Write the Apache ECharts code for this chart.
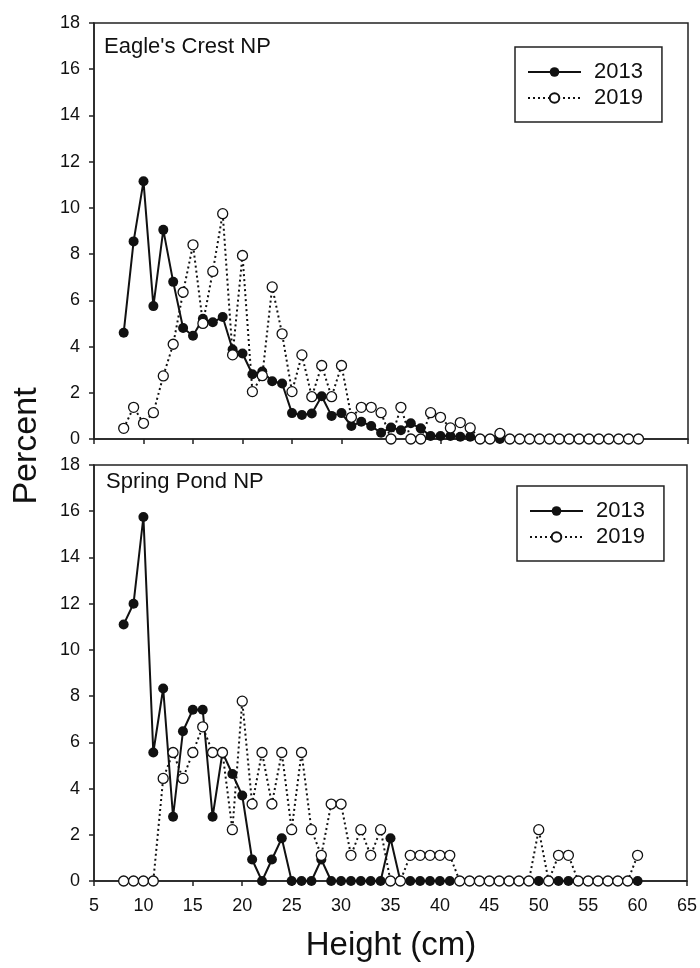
<!DOCTYPE html>
<html>
<head>
<meta charset="utf-8">
<script src="https://cdn.jsdelivr.net/npm/echarts@6/dist/echarts.min.js"></script>
<style>
  html, body { margin: 0; padding: 0; background: #fff; }
  #chart { width: 700px; height: 968px; }
</style>
</head>
<body>
<div id="chart"></div>
<script>
// ---- Data ----
const heightsTop2013 = [8, 9, 10, 11, 12, 13, 14, 15, 16, 17, 18, 19, 20, 21, 22, 23, 24, 25, 26, 27,
  28, 29, 30, 31, 32, 33, 34, 35, 36, 37, 38, 39, 40, 41, 42, 43, 44, 45, 46];
const eagle2013 = [4.6, 8.55, 11.15, 5.75, 9.05, 6.8, 4.8, 4.47, 5.2, 5.05, 5.28, 3.87, 3.7, 2.8, 2.92, 2.5, 2.4, 1.12, 1.04, 1.1,
  1.85, 1.0, 1.12, 0.56, 0.75, 0.56, 0.27, 0.5, 0.38, 0.68, 0.46, 0.13, 0.13, 0.13, 0.1, 0.1, 0, 0, 0];

const heightsAll = [8, 9, 10, 11, 12, 13, 14, 15, 16, 17, 18, 19, 20, 21, 22, 23, 24, 25, 26, 27,
  28, 29, 30, 31, 32, 33, 34, 35, 36, 37, 38, 39, 40, 41, 42, 43, 44, 45, 46, 47,
  48, 49, 50, 51, 52, 53, 54, 55, 56, 57, 58, 59, 60];
const eagle2019 = [0.46, 1.37, 0.68, 1.14, 2.73, 4.1, 6.35, 8.4, 5.0, 7.25, 9.75, 3.64, 7.94, 2.05, 2.74, 6.58, 4.55, 2.05, 3.64, 1.83,
  3.18, 1.83, 3.18, 0.94, 1.37, 1.37, 1.14, 0, 1.37, 0, 0, 1.14, 0.94, 0.48, 0.71, 0.48, 0, 0, 0.24, 0,
  0, 0, 0, 0, 0, 0, 0, 0, 0, 0, 0, 0, 0];

const spring2013 = [11.1, 12.0, 15.75, 5.56, 8.33, 2.78, 6.48, 7.41, 7.41, 2.78, 5.56, 4.63, 3.7, 0.93, 0, 0.93, 1.85, 0, 0, 0,
  0.93, 0, 0, 0, 0, 0, 0, 1.85, 0, 0, 0, 0, 0, 0, 0, 0, 0, 0, 0, 0,
  0, 0, 0, 0, 0, 0, 0, 0, 0, 0, 0, 0, 0];
const spring2019 = [0, 0, 0, 0, 4.44, 5.56, 4.44, 5.56, 6.67, 5.56, 5.56, 2.22, 7.78, 3.33, 5.56, 3.33, 5.56, 2.22, 5.56, 2.22,
  1.11, 3.33, 3.33, 1.11, 2.22, 1.11, 2.22, 0, 0, 1.11, 1.11, 1.11, 1.11, 1.11, 0, 0, 0, 0, 0, 0,
  0, 0, 2.22, 0, 1.11, 1.11, 0, 0, 0, 0, 0, 0, 1.11];

const panelTitles = ["Eagle's Crest NP", "Spring Pond NP"];
const seriesNames = ["2013", "2019"];
const xTicks = { min: 5, max: 65, interval: 5 };
const yTicks = { min: 0, max: 18, interval: 2 };

// ---- Chart ----
const FONT = "'Liberation Sans', Arial, sans-serif";
const INK = '#111';
const AXIS = '#222';

function pairs(xs, ys) { return xs.map((x, i) => [x, ys[i]]); }

const gridPos = [
  { left: 94, top: 23, width: 594, height: 416 },
  { left: 94, top: 465, width: 594, height: 416 }
];

function xAxis(i, showLabels) {
  return {
    type: 'value', gridIndex: i, min: xTicks.min, max: xTicks.max, interval: xTicks.interval,
    axisLine: { show: true, onZero: false, lineStyle: { color: AXIS, width: 1.5 } },
    axisTick: { show: true, inside: false, length: 5, lineStyle: { color: AXIS, width: 1.5 } },
    axisLabel: { show: showLabels, fontSize: 18, color: INK, fontFamily: FONT, margin: 16 },
    splitLine: { show: false }
  };
}
function yAxis(i) {
  return {
    type: 'value', gridIndex: i, min: yTicks.min, max: yTicks.max, interval: yTicks.interval,
    axisLine: { show: true, onZero: false, lineStyle: { color: AXIS, width: 1.5 } },
    axisTick: { show: true, inside: false, length: 5, lineStyle: { color: AXIS, width: 1.5 } },
    axisLabel: { fontSize: 18, color: INK, fontFamily: FONT, margin: 14 },
    splitLine: { show: false }
  };
}
function solidSeries(i, data) {
  return {
    name: seriesNames[0], type: 'line', xAxisIndex: i, yAxisIndex: i, data: data,
    symbol: 'circle', symbolSize: 10, showSymbol: true, showAllSymbol: true, z: 2,
    lineStyle: { color: INK, width: 2, type: 'solid' },
    itemStyle: { color: INK, borderColor: INK, borderWidth: 0 },
    emphasis: { disabled: true }, animation: false
  };
}
function dottedSeries(i, data) {
  return {
    name: seriesNames[1], type: 'line', xAxisIndex: i, yAxisIndex: i, data: data,
    symbol: 'circle', symbolSize: 10, showSymbol: true, showAllSymbol: true, z: 3,
    lineStyle: { color: INK, width: 2, type: [2, 3] },
    itemStyle: { color: '#fff', borderColor: INK, borderWidth: 1.3 },
    emphasis: { disabled: true }, animation: false
  };
}
function legend(left, top) {
  return {
    data: seriesNames, orient: 'vertical', left: left, top: top,
    padding: [14, 19, 13, 12], itemWidth: 53, itemHeight: 12, itemGap: 4,
    borderColor: AXIS, borderWidth: 1.5, backgroundColor: '#fff', selectedMode: false,
    textStyle: { fontSize: 22, color: INK, fontFamily: FONT, padding: [0, 0, 0, 8] }
  };
}
function panelTitle(text, left, top) {
  return { text: text, left: left, top: top, padding: 0,
    textStyle: { fontSize: 22, fontWeight: 'normal', color: INK, fontFamily: FONT } };
}

const chart = echarts.init(document.getElementById('chart'), null, { renderer: 'canvas' });
chart.setOption({
  animation: false,
  backgroundColor: '#fff',
  title: [panelTitle(panelTitles[0], 104, 36), panelTitle(panelTitles[1], 106, 471)],
  legend: [legend(515, 47), legend(517, 486)],
  grid: gridPos.map(g => Object.assign({ show: true, borderColor: AXIS, borderWidth: 1.5, backgroundColor: 'transparent' }, g)),
  xAxis: [xAxis(0, false), xAxis(1, true)],
  yAxis: [yAxis(0), yAxis(1)],
  series: [
    solidSeries(0, pairs(heightsTop2013, eagle2013)),
    dottedSeries(0, pairs(heightsAll, eagle2019)),
    solidSeries(1, pairs(heightsAll, spring2013)),
    dottedSeries(1, pairs(heightsAll, spring2019))
  ],
  graphic: [
    { type: 'text', x: 27, y: 446, rotation: Math.PI / 2,
      style: { text: 'Percent', fontSize: 34, fontFamily: FONT, fill: INK, align: 'center', verticalAlign: 'middle' } },
    { type: 'text', x: 391, y: 946,
      style: { text: 'Height (cm)', fontSize: 33, fontFamily: FONT, fill: INK, align: 'center', verticalAlign: 'middle' } }
  ]
});
</script>
</body>
</html>
